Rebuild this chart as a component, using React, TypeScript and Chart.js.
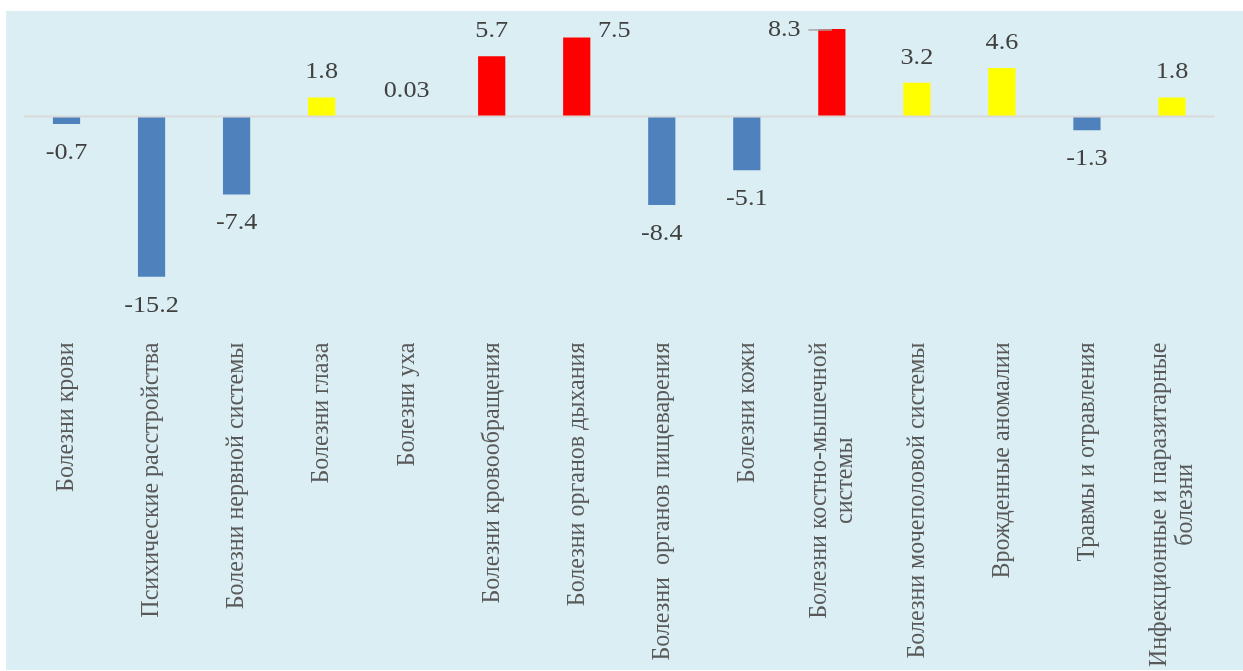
import React, { useEffect, useRef } from 'react';
import { Chart, registerables } from 'chart.js';

Chart.register(...registerables);

const categories: (string | string[])[] = [
  'Болезни крови',
  'Психические расстройства',
  'Болезни нервной системы',
  'Болезни глаза',
  'Болезни уха',
  'Болезни кровообращения',
  'Болезни органов дыхания',
  'Болезни  органов пищеварения',
  'Болезни кожи',
  ['Болезни костно-мышечной', 'системы'],
  'Болезни мочеполовой системы',
  'Врожденные аномалии',
  'Травмы и отравления',
  ['Инфекционные и паразитарные', 'болезни'],
];

const values: number[] = [-0.7, -15.2, -7.4, 1.8, 0.03, 5.7, 7.5, -8.4, -5.1, 8.3, 3.2, 4.6, -1.3, 1.8];

const valueLabels: string[] = ['-0.7', '-15.2', '-7.4', '1.8', '0.03', '5.7', '7.5', '-8.4', '-5.1', '8.3', '3.2', '4.6', '-1.3', '1.8'];

const BLUE = '#4f81bd';
const YELLOW = '#ffff00';
const RED = '#ff0000';
const colorFor = (v: number) => (v < 0 ? BLUE : v > 5 ? RED : YELLOW);

const FONT = '24px "Liberation Serif", "Times New Roman", serif';
const SX = 1.09;
const LINE_H = 23.8;

// label placement tweaks (relative to bar end), as in the original
const labelOffsets: Record<number, { dx: number; dy: number; leader?: boolean }> = {
  6: { dx: 37.5, dy: -7 },
  9: { dx: -47.5, dy: 1, leader: true },
};

const labelPlugin = {
  id: 'customLabels',
  afterDatasetsDraw(chart: any) {
    const ctx: CanvasRenderingContext2D = chart.ctx;
    const area = chart.chartArea;
    const ys = chart.scales.y;
    const xs = chart.scales.x;
    const meta = chart.getDatasetMeta(0);

    // zero line
    const y0 = ys.getPixelForValue(0);
    ctx.save();
    ctx.strokeStyle = '#d9d9d9';
    ctx.lineWidth = 2;
    ctx.beginPath();
    ctx.moveTo(area.left, y0);
    ctx.lineTo(area.right, y0);
    ctx.stroke();
    ctx.restore();

    // data labels
    ctx.save();
    ctx.font = FONT;
    ctx.fillStyle = '#404040';
    ctx.textAlign = 'center';
    ctx.textBaseline = 'middle';
    meta.data.forEach((bar: any, i: number) => {
      const { x, y } = bar.getProps(['x', 'y'], true);
      const v = values[i];
      let lx = x;
      let ly = v >= 0 ? y - 25.5 : y + 28.5;
      const off = labelOffsets[i];
      if (off) {
        lx = x + off.dx;
        ly = y + off.dy;
        if (off.leader) {
          ctx.save();
          ctx.strokeStyle = '#a6a6a6';
          ctx.lineWidth = 1.5;
          ctx.beginPath();
          ctx.moveTo(x - 23.5, y + 1);
          ctx.lineTo(x, y + 1);
          ctx.stroke();
          ctx.restore();
        }
      }
      ctx.save();
      ctx.translate(lx, ly);
      ctx.scale(SX, 1);
      ctx.fillText(valueLabels[i], 0, 0);
      ctx.restore();
    });
    ctx.restore();

    // category labels (rotated, centered multi-line)
    ctx.save();
    ctx.font = FONT;
    ctx.fillStyle = '#595959';
    ctx.textAlign = 'center';
    ctx.textBaseline = 'middle';
    categories.forEach((c, i) => {
      const lines = Array.isArray(c) ? c : [c];
      const x = xs.getPixelForValue(i);
      const top = area.bottom + 15;
      const maxW = Math.max(...lines.map((l) => ctx.measureText(l).width));
      ctx.save();
      ctx.translate(x, top);
      ctx.scale(SX, 1);
      ctx.rotate(-Math.PI / 2);
      lines.forEach((l, j) => {
        ctx.fillText(l, -maxW / 2, (j - (lines.length - 1) / 2) * LINE_H);
      });
      ctx.restore();
    });
    ctx.restore();
  },
};

export default function App() {
  const ref = useRef<HTMLCanvasElement | null>(null);

  useEffect(() => {
    if (!ref.current) return;
    const chart = new Chart(ref.current, {
      type: 'bar',
      data: {
        labels: categories.map((c) => (Array.isArray(c) ? c.join(' ') : c)),
        datasets: [
          {
            data: values,
            backgroundColor: values.map(colorFor),
            borderWidth: 0,
            barPercentage: 0.32,
            categoryPercentage: 1,
          },
        ],
      },
      options: {
        animation: false,
        responsive: true,
        maintainAspectRatio: false,
        layout: { padding: { left: 18, right: 28.5, top: 0, bottom: 342.5 } },
        scales: {
          x: { display: false },
          y: { display: false, min: -20, max: 10 },
        },
        plugins: {
          legend: { display: false },
          tooltip: { enabled: false },
        },
      },
      plugins: [labelPlugin],
    });
    return () => chart.destroy();
  }, []);

  return (
    <div
      style={{
        position: 'fixed',
        left: 6,
        top: 11,
        width: 1237,
        height: 659,
        background: '#daeef3',
      }}
    >
      <canvas ref={ref} />
    </div>
  );
}
